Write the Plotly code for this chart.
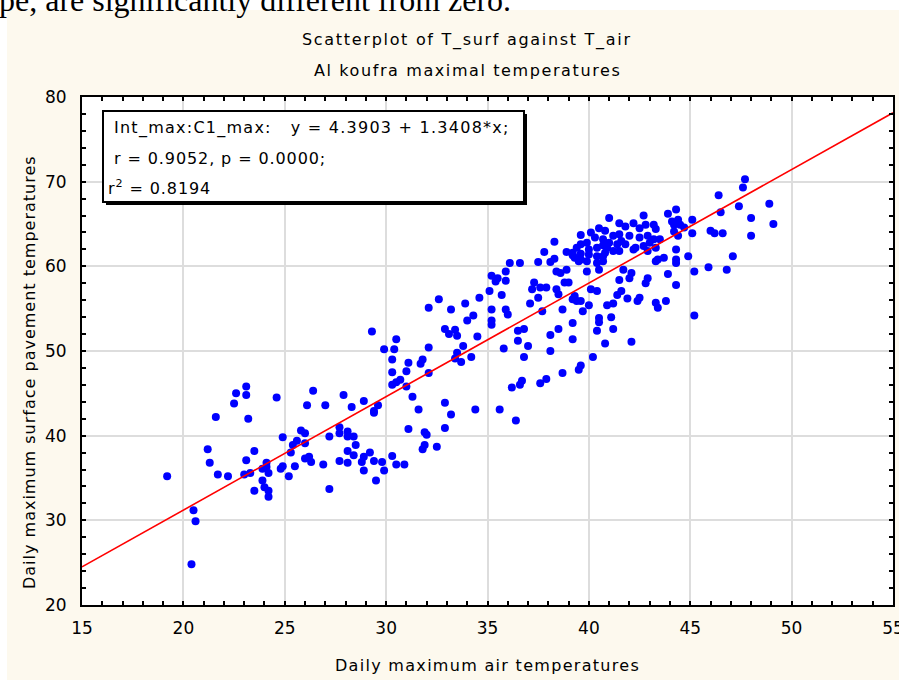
import plotly.graph_objects as go

# ---------------- data ----------------
t_air = [
    19.2, 20.5, 20.6, 20.4, 21.2, 21.3, 21.7, 21.6, 22.2, 22.5, 22.6, 23.1, 23.1, 23.2, 23.1, 23.5,
    23.0, 23.3, 23.5, 23.9, 23.9, 24.1, 24.2, 24.0, 24.2, 24.2, 24.1, 24.6, 24.9, 24.8, 24.9, 25.2,
    25.3, 25.4, 25.5, 25.6, 25.8, 26.0, 26.0, 26.0, 26.1,
    26.4, 27.0, 27.9, 28.3, 28.9, 29.3, 29.4, 29.4, 29.6, 27.2, 27.7, 27.7, 28.1, 28.1, 28.4, 28.5,
    28.1, 28.4, 27.7, 28.1, 26.9, 26.2, 26.3, 27.2, 28.8, 28.9, 28.9, 29.2, 29.4, 29.8, 29.9, 29.5,
    30.3, 30.5, 30.9, 29.9, 30.3, 30.4, 30.5, 30.3, 30.3, 30.5, 30.7, 31.0, 31.1, 31.0, 31.3, 31.6,
    31.7, 31.8, 32.1, 32.1, 32.1, 32.6, 33.2, 32.9, 33.1, 33.4, 33.5, 32.9, 33.2, 31.1, 31.9, 32.0,
    31.9, 31.8, 32.5, 32.9,
    33.9, 34.6, 35.1, 35.2, 35.5, 35.4, 35.9, 35.9, 36.1, 36.6, 35.7, 35.2, 35.2, 35.2, 35.9, 36.0,
    34.3, 34.0, 34.5, 33.8, 33.5, 33.4, 33.7, 34.2, 35.8, 36.5, 36.8, 36.5, 37.0, 36.8, 37.1, 37.5,
    37.7, 37.2, 37.3, 37.6, 37.9, 37.5, 37.8, 38.1, 38.3, 38.3, 38.1, 38.1, 38.5, 38.7, 38.7, 39.2,
    39.2, 35.6, 36.2, 36.6, 36.7, 37.6, 37.9, 36.4, 34.4, 38.4, 38.5, 38.4, 38.6, 38.9, 38.8, 39.0,
    38.9, 39.2, 39.4, 39.5, 39.2, 39.3, 39.4, 39.5,
    41.0, 42.7, 43.9, 44.3, 41.5, 41.8, 42.2, 42.5, 42.8, 43.2, 43.3, 44.1, 44.2, 39.6, 40.1, 40.5,
    40.8, 41.2, 40.3, 40.7, 41.0, 39.9, 39.6, 39.2, 39.6, 40.0, 40.4, 40.9, 41.2, 41.6, 42.0, 42.5,
    42.9, 43.2, 43.5, 41.8, 42.3, 42.7, 43.0, 43.3, 41.5, 40.8, 40.4, 40.0, 39.6, 39.9, 40.4, 40.7,
    43.4, 43.7, 44.3, 44.3, 44.4, 39.9, 40.5, 41.7, 42.1, 42.0, 41.5, 42.9, 42.8, 43.9, 44.3, 40.1,
    40.4, 41.6, 41.4, 41.9, 42.5, 42.4, 43.3, 43.4, 43.8, 40.0, 39.6, 40.9, 41.2, 40.5, 40.5, 41.1,
    39.7, 40.4, 41.2,
    40.8, 42.1, 40.2, 39.6,
    47.7, 47.6, 46.4, 48.9, 47.4, 46.5, 48.0, 49.1, 48.0, 46.0, 46.2, 46.6, 45.1, 45.1, 44.4, 44.5,
    44.7, 44.2, 44.9, 44.3, 47.1, 45.9, 46.8, 45.2, 45.2,
    43.3, 42.9, 42.2, 41.5, 41.4, 40.7, 39.3, 40.7,
]
t_surf = [
    35.2, 31.2, 29.9, 24.8, 38.4, 36.8, 35.4, 42.2, 35.2, 43.8, 45.0, 45.8, 44.8, 42.0, 37.1, 38.2,
    35.4, 35.6, 33.5, 34.7, 36.1, 36.8, 35.6, 33.9, 33.5, 32.8, 36.3, 44.5, 39.8, 36.1, 36.4, 35.2,
    38.0, 38.9, 36.4, 39.4, 40.6, 40.3, 39.1, 37.3, 43.6,
    45.3, 43.6, 44.8, 43.4, 44.1, 52.3, 42.9, 42.7, 43.6, 39.9, 41.0, 40.3, 40.5, 39.9, 39.9, 38.9,
    38.2, 37.7, 37.0, 36.8, 36.6, 37.5, 36.9, 33.7, 36.9, 35.9, 37.5, 38.0, 37.0, 36.9, 35.9, 34.7,
    37.6, 36.6, 36.6, 50.2, 49.0, 50.2, 51.4, 47.5, 46.0, 46.3, 46.6, 47.6, 48.6, 45.8, 44.6, 43.1,
    48.5, 49.0, 50.4, 47.4, 55.1, 56.1, 54.9, 52.6, 52.0, 52.5, 51.8, 43.9, 42.5, 40.8, 40.4, 40.1,
    38.9, 38.4, 38.7, 40.9,
    55.6, 56.3, 57.1, 58.9, 58.6, 58.2, 59.4, 58.3, 60.4, 60.4, 56.6, 54.9, 53.6, 53.1, 54.9, 54.3,
    54.2, 53.6, 51.7, 50.6, 49.8, 49.1, 48.7, 49.3, 50.3, 52.4, 52.6, 51.2, 50.6, 49.3, 55.6, 56.3,
    54.7, 57.3, 58.1, 57.5, 57.5, 60.5, 61.7, 60.5, 60.9, 62.9, 51.9, 50.0, 52.6, 54.9, 47.4, 51.4,
    53.3, 43.1, 45.7, 46.0, 46.5, 46.2, 46.7, 41.8, 43.1, 57.3, 56.7, 59.4, 59.2, 59.6, 58.1, 58.1,
    61.7, 61.6, 62.2, 60.6, 56.1, 56.5, 55.9, 47.8,
    65.7, 66.0, 66.2, 66.7, 65.1, 64.7, 65.1, 64.5, 64.9, 64.9, 64.4, 65.3, 64.9, 63.7, 64.0, 64.5,
    64.2, 63.6, 63.4, 63.2, 62.8, 62.8, 62.6, 61.3, 61.5, 62.0, 62.2, 62.2, 61.8, 63.0, 63.6, 63.4,
    63.6, 63.2, 63.2, 62.6, 62.2, 62.4, 62.8, 62.2, 61.8, 61.6, 61.2, 61.4, 60.8, 60.6, 60.4, 60.6,
    60.8, 61.0, 62.0, 60.8, 63.6, 59.4, 59.6, 59.6, 59.2, 58.6, 58.4, 58.6, 58.0, 59.1, 57.8, 57.3,
    57.1, 57.1, 56.6, 56.2, 56.3, 55.9, 55.7, 55.1, 55.9, 55.4, 55.9, 55.4, 55.6, 53.9, 53.4, 54.0,
    54.7, 52.4, 52.6,
    50.9, 51.1, 49.3, 48.3,
    70.3, 69.3, 68.4, 67.4, 67.1, 66.4, 65.7, 65.0, 63.6, 64.2, 63.9, 63.9, 65.5, 63.9, 65.5, 64.9,
    64.6, 64.1, 61.2, 60.4, 61.2, 59.9, 59.6, 59.4, 54.2,
    60.6, 61.8, 62.0, 63.8, 62.6, 62.5, 61.0, 61.2,
]

# regression reported in the chart
intercept = 4.3903
slope = 1.3408
r_value = "0.9052"
p_value = "0.0000"
r2_value = "0.8194"
fit_x = [15, 55]
fit_y = [intercept + slope * v for v in fit_x]

x_ticks = [15, 20, 25, 30, 35, 40, 45, 50, 55]
y_ticks = [20, 30, 40, 50, 60, 70, 80]

title_1 = "Scatterplot of T_surf against T_air"
title_2 = "Al koufra maximal temperatures"
x_title = "Daily maximum air temperatures"
y_title = "Daily maximum surface pavement temperatures"
doc_text = "pe, are significantly different from zero."

# ---------------- layout helpers ----------------
W, H = 899, 682
L, R, T, B = 82, 6, 97, 77
PW, PH = W - L - R, H - T - B      # 811 x 508


def px(xp):
    """page pixel x -> paper coordinate"""
    return (xp - L) / PW


def py(yp):
    """page pixel y -> paper coordinate"""
    return (H - B - yp) / PH


def ls(text, sp):
    return f'<span style="letter-spacing:{sp}px">{text}</span>'


FONT = "DejaVu Sans"
CREAM = "#FDF9EE"

fig = go.Figure()

fig.add_trace(go.Scatter(
    x=t_air, y=t_surf, mode="markers",
    marker=dict(color="#0000FF", size=8, line=dict(width=0)),
    showlegend=False, hoverinfo="x+y",
))
fig.add_trace(go.Scatter(
    x=fit_x, y=fit_y, mode="lines",
    line=dict(color="#FF0000", width=1.6),
    showlegend=False, hoverinfo="skip",
))

axis_common = dict(
    showline=True, linecolor="black", linewidth=2, mirror="allticks",
    ticks="inside", ticklen=4, tickwidth=1.5, tickcolor="black",
    showgrid=True, gridcolor="#DDDDDD", gridwidth=1.5, zeroline=False,
    tickfont=dict(family=FONT, size=17, color="black"),
    ticklabeloverflow="allow", automargin=False,
)

fig.update_xaxes(
    range=[15, 55], tickvals=x_ticks, ticktext=[str(v) for v in x_ticks],
    minor=dict(dtick=1, ticks="inside", ticklen=4, tickwidth=1.5, tickcolor="black", showgrid=False),
    ticklabelstandoff=7,
    **axis_common,
)
fig.update_yaxes(
    range=[20, 80], tickvals=y_ticks, ticktext=[str(v) for v in y_ticks],
    minor=dict(dtick=2, ticks="inside", ticklen=4, tickwidth=1.5, tickcolor="black", showgrid=False),
    ticklabelstandoff=10,
    **axis_common,
)

shapes = [
    # white page strips around the cream chart panel
    dict(type="rect", xref="paper", yref="paper", x0=px(0), x1=px(W), y0=py(10), y1=py(0),
         fillcolor="white", line=dict(width=0), layer="below"),
    dict(type="rect", xref="paper", yref="paper", x0=px(0), x1=px(7), y0=py(H), y1=py(0),
         fillcolor="white", line=dict(width=0), layer="below"),
    dict(type="rect", xref="paper", yref="paper", x0=px(0), x1=px(W), y0=py(H), y1=py(680),
         fillcolor="white", line=dict(width=0), layer="below"),
    # statistics box: shadow then box
    dict(type="rect", xref="paper", yref="paper", x0=px(106), x1=px(527), y0=py(205), y1=py(114),
         fillcolor="black", line=dict(width=0), layer="above"),
    dict(type="rect", xref="paper", yref="paper", x0=px(103), x1=px(524), y0=py(202), y1=py(111),
         fillcolor="white", line=dict(color="black", width=2), layer="above"),
]

annotations = [
    dict(text=ls(title_1, 1.7), x=px(467), y=py(40), xref="paper", yref="paper",
         showarrow=False, xanchor="center", yanchor="middle",
         font=dict(family=FONT, size=16, color="black")),
    dict(text=ls(title_2, 1.6), x=px(467), y=py(70), xref="paper", yref="paper",
         showarrow=False, xanchor="center", yanchor="middle",
         font=dict(family=FONT, size=16, color="black")),
    dict(text=ls(x_title, 1.3), x=px(487), y=py(665), xref="paper", yref="paper",
         showarrow=False, xanchor="center", yanchor="middle",
         font=dict(family=FONT, size=16, color="black")),
    dict(text=ls(y_title, 1.0), x=px(30), y=py(372), xref="paper", yref="paper",
         showarrow=False, xanchor="center", yanchor="middle", textangle=-90,
         font=dict(family=FONT, size=16, color="black")),
    dict(text=ls("Int_max:C1_max:\u00a0\u00a0\u00a0y = " + f"{intercept:.4f} + {slope:.4f}*x;", 1.25),
         x=px(112), y=py(128), xref="paper", yref="paper",
         showarrow=False, xanchor="left", yanchor="middle",
         font=dict(family=FONT, size=16, color="black")),
    dict(text=ls(f"r = {r_value}, p = {p_value};", 0.9),
         x=px(112), y=py(158), xref="paper", yref="paper",
         showarrow=False, xanchor="left", yanchor="middle",
         font=dict(family=FONT, size=16, color="black")),
    dict(text=ls(f"r<sup>2</sup> = {r2_value}", 0.9),
         x=px(106), y=py(187), xref="paper", yref="paper",
         showarrow=False, xanchor="left", yanchor="middle",
         font=dict(family=FONT, size=16, color="black")),
    dict(text=doc_text, x=px(-3), y=py(20), xref="paper", yref="paper",
         showarrow=False, xanchor="left", yanchor="bottom",
         font=dict(family="Liberation Serif", size=32, color="black")),
]

fig.update_layout(
    width=W, height=H,
    margin=dict(l=L, r=R, t=T, b=B, pad=0, autoexpand=False),
    paper_bgcolor=CREAM, plot_bgcolor="white",
    shapes=shapes, annotations=annotations,
    showlegend=False,
)

fig.write_html(
    "out.html",
    config={"displayModeBar": False, "responsive": False},
    post_script="document.body.style.margin='0px';document.body.style.overflow='hidden';",
)
